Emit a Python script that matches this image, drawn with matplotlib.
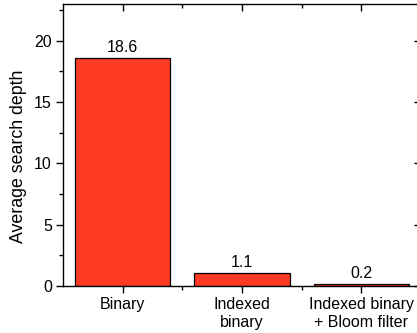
import matplotlib.pyplot as plt
from matplotlib.ticker import MultipleLocator, FixedLocator

# data
methods = ["Binary", "Indexed\nbinary", "Indexed binary\n+ Bloom filter"]
depth = [18.6, 1.1, 0.2]
depth_labels = ["18.6", "1.1", "0.2"]

plt.rcParams['font.family'] = ['Liberation Sans', 'DejaVu Sans']
plt.rcParams['font.size'] = 11.5

fig = plt.figure(figsize=(4.17, 3.33), dpi=100)
ax = fig.add_axes([63 / 417, (333 - 286) / 333, 358 / 417, 282 / 333])

x = list(range(len(methods)))
ax.bar(x, depth, width=0.8, color='#FF3A24', edgecolor='black', linewidth=0.9)
for xi, v, lab in zip(x, depth, depth_labels):
    ax.text(xi, v + 0.2, lab, ha='center', va='bottom', fontsize=11.5)

ax.set_xlim(-0.5, 2.5)
ax.set_ylim(0, 23)
ax.set_xticks(x)
ax.set_xticklabels(methods, linespacing=1.25)
ax.xaxis.set_minor_locator(FixedLocator([0.5, 1.5]))
ax.yaxis.set_major_locator(MultipleLocator(5))
ax.yaxis.set_minor_locator(MultipleLocator(2.5))
ax.set_ylabel("Average search depth", fontsize=12.8, va='center')
ax.yaxis.set_label_coords(-0.123, 0.46)

for s in ax.spines.values():
    s.set_linewidth(1.0)
ax.tick_params(which='major', direction='out', length=5, width=1, pad=3)
ax.tick_params(which='minor', direction='out', length=3, width=1)
ax.tick_params(which='both', top=True, right=True)

# top/right ticks point inward
for t in ax.xaxis.get_major_ticks() + ax.xaxis.get_minor_ticks():
    t.tick2line.set_marker(3)
for t in ax.yaxis.get_major_ticks() + ax.yaxis.get_minor_ticks():
    t.tick2line.set_marker(0)

fig.savefig("out.png", dpi=100)
